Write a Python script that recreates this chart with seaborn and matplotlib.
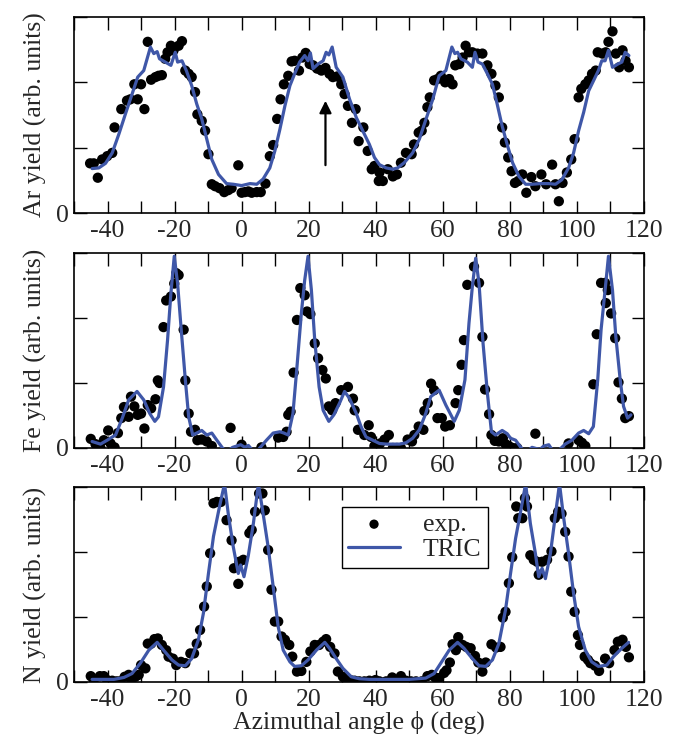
import numpy as np
import pandas as pd
import matplotlib
matplotlib.use("Agg")
import matplotlib.pyplot as plt
import seaborn as sns

# ---------------- data ----------------
ar_exp_x = [-45.2, -44.1, -42.9, -41.6, -40.1, -38.6, -37.9, -35.9, -34.2, -33.2, -32.0, -31.0, -30.0, -29.0,
            -28.0, -27.0, -25.7, -24.8, -23.8, -22.8, -22.1, -21.1, -20.3, -18.8, -17.8, -16.8, -15.8, -14.9,
            -13.9, -13.2, -11.9, -10.9, -9.9, -8.9, -7.9, -6.6, -5.2, -4.0, -3.0, -1.0, 0.0, 1.0, 2.0, 3.0,
            4.5, 5.7, 7.1, 8.4, 9.4, 10.6, 11.6, 12.6, 13.9, 14.9, 15.8, 17.1, 18.1, 19.1, 20.3, 21.3, 22.5,
            23.8, 25.0, 26.2, 27.2, 28.5, 29.7, 30.7, 31.7, 32.9, 34.0, 34.9, 36.3, 37.6, 38.8, 39.6, 40.9,
            41.1, 42.1, 43.6, 45.1, 46.3, 47.5, 49.0, 50.7, 51.4, 52.8, 53.7, 54.5, 55.4, 56.1, 57.4, 58.4,
            59.4, 60.7, 61.9, 62.9, 63.7, 64.9, 65.9, 66.8, 67.8, 68.8, 70.3, 71.8, 73.3, 74.5, 75.7, 76.7,
            77.7, 78.5, 79.5, 80.5, 81.5, 82.5, 83.7, 84.9, 86.4, 87.6, 89.4, 90.8, 92.6, 93.6, 94.6, 95.7,
            97.0, 98.3, 99.3, 100.5, 101.3, 102.5, 103.5, 104.5, 105.6, 106.2, 107.6, 108.6, 109.4, 110.6,
            111.6, 112.6, 113.6, 114.5, 115.5]
ar_exp_y = [0.76, 0.76, 0.54, 0.82, 0.87, 0.92, 1.31, 1.59, 1.72, 1.74, 1.97, 1.74, 1.97, 1.59,
            2.62, 2.04, 2.08, 2.10, 2.11, 2.36, 2.46, 2.56, 2.49, 2.56, 2.63, 2.18, 2.13, 2.08,
            1.85, 1.51, 1.41, 1.26, 0.90, 0.44, 0.41, 0.38, 0.32, 0.35, 0.38, 0.73, 0.31, 0.32, 0.33, 0.31,
            0.32, 0.32, 0.45, 0.87, 1.04, 1.44, 1.74, 1.97, 2.10, 2.32, 2.33, 2.18, 2.38, 2.45, 2.28, 2.26, 2.21,
            2.18, 2.22, 2.13, 2.08, 2.09, 1.97, 1.82, 1.64, 1.38, 1.59, 1.10, 1.31, 0.95, 0.67, 0.72, 0.49,
            0.62, 0.49, 0.67, 0.56, 0.59, 0.77, 0.92, 0.90, 1.05, 1.23, 1.26, 1.38, 1.62, 1.77, 2.03, 2.05,
            2.10, 2.00, 2.05, 1.97, 2.26, 2.28, 2.38, 2.56, 2.46, 2.46, 2.44, 2.44, 2.26, 2.13, 1.95, 1.77,
            1.31, 1.08, 0.85, 0.64, 0.46, 0.49, 0.59, 0.31, 0.55, 0.41, 0.59, 0.44, 0.74, 0.44, 0.18, 0.46,
            0.62, 0.82, 1.13, 1.77, 1.90, 1.97, 2.03, 2.13, 2.18, 2.46, 2.44, 2.46, 2.62, 2.78,
            2.44, 2.23, 2.49, 2.33, 2.23]

ar_tric_x = [-44.6, -42.6, -40.6, -38.6, -36.6, -34.7, -33.2, -31.0, -29.2, -27.2, -26.2, -25.2, -24.5, -22.8,
             -21.1, -19.8, -19.1, -17.8, -16.5, -14.9, -13.4, -11.9, -10.4, -8.9, -6.9, -4.5, -2.5, 0.0, 2.5,
             4.5, 6.4, 8.4, 9.9, 11.4, 12.9, 14.4, 15.8, 17.3, 18.8, 19.8, 20.5, 21.3, 22.8, 24.3, 25.2, 26.0,
             27.0, 28.2, 30.2, 32.2, 34.2, 36.1, 38.1, 39.6, 41.1, 43.1, 45.1, 46.5, 48.5, 51.0, 53.0, 55.0,
             57.0, 58.9, 60.9, 62.7, 63.6, 64.4, 65.4, 67.3, 68.8, 69.6, 70.5, 71.8, 73.3, 74.8, 76.2, 77.7,
             79.3, 80.8, 82.7, 84.7, 86.6, 89.1, 91.6, 93.6, 95.5, 97.5, 99.0, 100.5, 102.0, 103.5, 105.0,
             106.4, 107.4, 108.4, 109.4, 110.6, 112.2, 113.4, 114.4, 115.5]
ar_tric_y = [0.68, 0.69, 0.76, 0.92, 1.21, 1.51, 1.74, 2.08, 2.18, 2.54, 2.44, 2.47, 2.36, 2.31,
             2.26, 2.46, 2.31, 2.33, 2.18, 1.95, 1.67, 1.44, 1.13, 0.82, 0.59, 0.45, 0.44, 0.42, 0.45,
             0.44, 0.52, 0.69, 0.95, 1.28, 1.64, 1.95, 2.13, 2.31, 2.41, 2.33, 2.45, 2.21, 2.28, 2.33, 2.46, 2.42,
             2.54, 2.23, 2.08, 1.74, 1.46, 1.26, 1.05, 0.85, 0.74, 0.69, 0.67, 0.69, 0.77, 0.92, 1.13, 1.44,
             1.74, 2.10, 2.18, 2.54, 2.44, 2.46, 2.36, 2.31, 2.23, 2.46, 2.31, 2.28, 2.13, 1.97, 1.67, 1.33,
             1.03, 0.77, 0.56, 0.44, 0.44, 0.45, 0.45, 0.44, 0.51, 0.69, 0.92, 1.26, 1.54, 1.87, 2.03,
             2.18, 2.33, 2.33, 2.49, 2.23, 2.28, 2.31, 2.46, 2.41]

fe_exp_x = [-45.0, -43.6, -42.1, -41.1, -39.8, -39.1, -37.9, -36.9, -35.9, -35.1, -33.7, -33.0, -32.0, -31.0,
            -30.0, -29.0, -28.0, -27.0, -25.7, -25.0, -24.5, -23.3, -22.5, -21.1, -20.1, -19.5, -18.8, -17.3,
            -16.8, -15.8, -15.1, -13.9, -13.2, -11.9, -10.4, -8.9, -3.3, 0.0, 5.9, 10.9, 12.4, 13.4, 13.9,
            14.6, 15.5, 16.5, 17.5, 18.8, 19.5, 20.5, 21.8, 22.8, 24.1, 25.1, 26.0, 27.0, 28.0, 29.7, 31.7,
            33.2, 33.7, 34.7, 36.6, 37.9, 38.6, 39.6, 41.3, 42.6, 43.9, 45.1, 46.3, 47.5, 49.5, 50.8, 51.5,
            52.8, 54.2, 54.5, 55.5, 56.5, 57.4, 58.4, 59.7, 60.7, 62.1, 63.8, 64.6, 65.6, 66.3, 67.3, 69.3,
            70.8, 71.8, 72.6, 73.8, 74.5, 75.5, 76.7, 77.9, 78.7, 79.7, 80.9, 82.2, 87.6, 97.5, 100.5, 101.5,
            102.5, 104.9, 105.9, 107.2, 108.4, 108.6, 109.2, 110.2, 111.4, 112.4, 113.4, 114.4, 115.5]
fe_exp_y = [0.14, 0.06, 0.00, 0.12, 0.27, 0.07, 0.01, 0.23, 0.46, 0.63, 0.48, 0.79, 0.64, 0.51,
            0.53, 0.30, 0.66, 0.61, 0.75, 1.04, 1.00, 1.86, 2.27, 2.33, 2.53, 2.69, 2.66, 1.82,
            1.04, 0.53, 0.25, 0.28, 0.12, 0.13, 0.10, 0.03, 0.31, 0.05, 0.01, 0.16, 0.17, 0.25, 0.51,
            0.56, 1.16, 1.97, 2.46, 2.35, 2.10, 2.06, 1.61, 1.38, 1.20, 1.07, 0.64, 0.58, 0.69, 0.89, 0.94,
            0.76, 0.58, 0.28, 0.20, 0.35, 0.17, 0.03, 0.07, 0.13, 0.20, 0.00, 0.00, 0.00, 0.13, 0.10, 0.20,
            0.33, 0.28, 0.57, 0.69, 0.99, 0.89, 0.46, 0.46, 0.33, 0.35, 0.69, 0.89, 1.28, 1.66, 2.51, 2.79,
            2.54, 1.71, 0.90, 0.52, 0.20, 0.11, 0.10, 0.15, 0.06, 0.03, 0.00, 0.00, 0.22, 0.07, 0.12, 0.08,
            0.03, 0.98, 1.75, 2.54, 2.54, 2.23, 2.43, 2.07, 1.69, 1.01, 0.76, 0.46, 0.49]

fe_tric_x = [-44.6, -42.1, -40.1, -37.6, -35.6, -33.7, -31.2, -29.2, -27.4, -25.9, -24.8, -23.3, -22.1, -21.1,
             -20.1, -19.1, -18.1, -16.8, -15.8, -14.6, -13.4, -11.9, -10.4, -8.9, -7.4, -5.7, -4.5, -2.7, -1.5,
             -0.3, 1.0, 2.0, 3.0, 4.3, 5.4, 7.4, 9.4, 11.4, 12.6, 13.9, 15.3, 16.5, 17.8, 18.8, 19.8, 20.8,
             21.8, 23.1, 24.3, 26.0, 27.5, 29.2, 30.7, 32.2, 34.2, 35.6, 37.1, 39.1, 41.1, 43.1, 45.1, 47.1,
             49.0, 51.0, 53.0, 54.9, 56.4, 58.9, 60.9, 63.4, 64.9, 66.6, 67.8, 68.8, 69.8, 70.8, 72.0, 73.3,
             74.5, 75.7, 77.7, 79.2, 80.2, 81.7, 83.7, 85.0, 86.6, 88.0, 89.0, 90.1, 91.6, 92.5, 94.0, 95.1,
             96.5, 98.5, 100.5, 102.0, 103.5, 104.9, 106.2, 107.2, 108.4, 109.4, 110.6, 111.6, 112.9, 113.9,
             115.1, 116.1]
fe_tric_y = [0.10, 0.06, 0.12, 0.20, 0.46, 0.74, 0.87, 0.74, 0.53, 0.41, 0.48, 0.94, 1.66, 2.38,
             2.95, 2.53, 1.87, 1.05, 0.48, 0.20, 0.23, 0.27, 0.20, 0.23, 0.12, 0.00, -0.06, 0.01, 0.03,
             0.05, 0.01, 0.04, -0.02, -0.06, 0.00, 0.12, 0.23, 0.25, 0.23, 0.20, 0.53, 1.25, 2.07, 2.58, 2.95, 2.43,
             1.66, 0.94, 0.58, 0.41, 0.51, 0.69, 0.87, 0.76, 0.53, 0.33, 0.17, 0.12, 0.07, 0.06, 0.06, 0.06,
             0.08, 0.15, 0.28, 0.53, 0.79, 0.89, 0.66, 0.41, 0.58, 1.05, 1.92, 2.48, 2.92, 2.53, 1.61, 0.84,
             0.25, 0.20, 0.27, 0.22, 0.15, 0.12, -0.02, -0.06, 0.01, -0.01, -0.02, 0.03, 0.05, -0.02, -0.06, -0.01,
             0.06, 0.12, 0.23, 0.27, 0.22, 0.33, 1.05, 1.82, 2.43, 2.95, 2.43, 1.71, 1.05, 0.64,
             0.46, 0.51]

n_exp_x = [-45.0, -44.1, -42.3, -41.1, -40.1, -38.6, -37.3, -36.3, -34.9, -33.7, -33.0, -31.7, -30.7, -30.0,
           -28.7, -28.0, -27.0, -26.0, -25.0, -23.8, -22.5, -21.8, -20.5, -19.5, -18.1, -16.8, -15.3, -14.2,
           -13.4, -12.4, -11.2, -10.4, -9.4, -8.4, -7.4, -6.2, -4.5, -3.0, -2.3, -1.0, -0.7, 0.5, 2.3, 3.0,
           4.0, 5.2, 6.2, 6.9, 7.9, 8.9, 9.9, 10.9, 11.9, 12.9, 14.2, 15.1, 16.5, 17.8, 19.3, 20.5, 21.8,
           23.1, 24.3, 25.2, 26.4, 27.7, 28.7, 30.2, 31.0, 32.4, 33.7, 35.1, 36.6, 38.1, 39.9, 41.1, 43.1,
           44.9, 46.1, 47.5, 49.0, 50.5, 52.0, 53.7, 55.4, 56.7, 57.7, 58.9, 60.4, 61.1, 62.1, 62.9, 63.9,
           64.6, 65.9, 67.0, 68.3, 69.6, 70.6, 71.8, 72.8, 74.5, 75.9, 77.2, 77.9, 78.7, 79.7, 80.7, 81.9,
           82.5, 83.7, 84.5, 85.1, 86.1, 87.1, 88.1, 88.6, 89.6, 91.1, 92.4, 93.4, 94.4, 95.4, 96.5, 97.5,
           98.3, 99.3, 100.3, 100.9, 102.3, 103.3, 104.0, 105.4, 106.6, 108.4, 109.6, 111.2, 112.2, 113.6,
           114.6, 115.5]
n_exp_y = [0.09, 0.03, 0.09, 0.09, 0.03, 0.02, 0.01, 0.01, 0.08, 0.11, 0.04, 0.08, 0.11, 0.26,
           0.21, 0.59, 0.59, 0.66, 0.67, 0.57, 0.49, 0.39, 0.36, 0.26, 0.31, 0.29, 0.44, 0.44,
           0.59, 0.80, 1.16, 1.47, 1.98, 2.75, 2.77, 2.77, 2.49, 2.18, 1.75, 1.51, 1.85, 1.88, 2.29, 2.34,
           2.62, 2.90, 2.90, 2.64, 2.03, 1.42, 0.93, 0.93, 0.70, 0.65, 0.57, 0.39, 0.16, 0.17, 0.31, 0.47, 0.57,
           0.57, 0.62, 0.66, 0.54, 0.44, 0.16, 0.08, 0.03, 0.03, 0.02, 0.01, 0.01, 0.02, 0.03, 0.01, 0.01,
           0.07, 0.03, 0.09, 0.02, 0.01, 0.01, 0.01, 0.09, 0.11, 0.07, 0.06, 0.14, 0.18, 0.30, 0.58, 0.49,
           0.69, 0.57, 0.54, 0.52, 0.40, 0.30, 0.16, 0.30, 0.58, 0.53, 0.54, 0.99, 1.08, 1.52, 1.92, 2.70,
           2.52, 2.52, 2.83, 2.70, 1.95, 1.88, 1.85, 1.65, 1.85, 1.88, 2.01, 2.52, 2.62, 2.59, 2.31, 1.93,
           1.39, 1.08, 0.72, 0.57, 0.39, 0.34, 0.29, 0.25, 0.17, 0.36, 0.29, 0.49, 0.62, 0.65,
           0.54, 0.38]

n_tric_x = [-44.6, -41.1, -38.1, -35.1, -32.7, -30.2, -27.7, -25.2, -23.3, -20.8, -18.8, -16.8, -14.9, -12.9,
            -11.4, -9.9, -8.4, -6.6, -5.1, -4.0, -2.5, -1.0, -0.3, 0.7, 2.0, 3.5, 5.0, 6.4, 7.9, 9.4, 10.9,
            12.4, 14.4, 15.8, 17.8, 19.8, 22.3, 24.8, 26.2, 28.2, 30.2, 32.7, 35.1, 38.1, 41.1, 45.0, 50.0,
            54.9, 57.4, 59.4, 61.9, 64.4, 66.3, 68.8, 70.8, 72.8, 74.8, 76.7, 78.7, 80.2, 81.7, 83.2, 84.7,
            86.1, 87.6, 88.6, 89.6, 90.6, 92.1, 93.5, 94.8, 96.0, 97.5, 99.0, 100.5, 102.5, 104.4, 106.4,
            108.9, 110.9, 113.4, 115.4]
n_tric_y = [0.04, 0.04, 0.04, 0.07, 0.13, 0.29, 0.49, 0.61, 0.49, 0.34, 0.26, 0.25, 0.36, 0.65,
            1.06, 1.67, 2.24, 2.70, 3.05, 2.59, 2.08, 1.67, 1.80, 1.62, 1.95, 2.44, 3.05, 2.59, 2.08, 1.47, 0.85,
            0.49, 0.31, 0.24, 0.25, 0.34, 0.49, 0.61, 0.52, 0.36, 0.21, 0.08, 0.05, 0.04, 0.04, 0.04, 0.04,
            0.06, 0.13, 0.29, 0.49, 0.61, 0.52, 0.36, 0.25, 0.24, 0.34, 0.59, 1.11, 1.67, 2.21, 2.62, 3.05,
            2.44, 1.98, 1.62, 1.75, 1.59, 1.98, 2.54, 3.05, 2.54, 1.98, 1.36, 0.85, 0.49, 0.31, 0.24,
            0.26, 0.39, 0.52, 0.61]

panel_labels = ["Ar yield (arb. units)", "Fe yield (arb. units)", "N yield (arb. units)"]
x_ticks = [-40, -20, 0, 20, 40, 60, 80, 100, 120]
legend_labels = ["exp.", "TRIC"]
x_label = "Azimuthal angle \u03d5 (deg)"

# ---------------- style ----------------
sns.set_theme(style="ticks")
plt.rcParams["font.family"] = ["Liberation Serif", "DejaVu Serif"]
plt.rcParams["axes.unicode_minus"] = False

line_color = "#3f57a8"
FS = 18.5

fig = plt.figure(figsize=(6.8, 7.44), dpi=100)
L, R = 74 / 680, 644 / 680
tops = [17, 253, 487]
bots = [213, 448, 682]
axes = []
for t, b in zip(tops, bots):
    axes.append(fig.add_axes([L, 1 - b / 744, R - L, (b - t) / 744]))

datasets = [
    (ar_exp_x, ar_exp_y, ar_tric_x, ar_tric_y),
    (fe_exp_x, fe_exp_y, fe_tric_x, fe_tric_y),
    (n_exp_x, n_exp_y, n_tric_x, n_tric_y),
]

for i, (ax, (ex, ey, tx, ty)) in enumerate(zip(axes, datasets)):
    dexp = pd.DataFrame({"x": ex, "y": ey})
    dtr = pd.DataFrame({"x": tx, "y": ty})
    sns.lineplot(data=dtr, x="x", y="y", ax=ax, color=line_color, lw=2.3,
                 sort=False, estimator=None, label=legend_labels[1], zorder=3)
    sns.scatterplot(data=dexp, x="x", y="y", ax=ax, color="black", s=55,
                    edgecolor="none", label=legend_labels[0], zorder=2)
    ax.set_xlim(-50, 120)
    ax.set_ylim(0, 3)
    ax.set_xticks(x_ticks)
    ax.set_xticks(np.arange(-50, 121, 10), minor=True)
    ax.set_yticks([0, 1, 2, 3])
    ax.set_yticklabels(["0", "", "", ""])
    ax.tick_params(axis="both", which="both", direction="in", top=True, right=True,
                   length=9, width=1.0, labelsize=FS, pad=5, color="black")
    ax.tick_params(axis="y", which="major", pad=4)
    for sp in ax.spines.values():
        sp.set_linewidth(1.2)
        sp.set_color("black")
    ax.set_ylabel(panel_labels[i], fontsize=FS, labelpad=6)
    ax.set_xlabel("")
    if ax.get_legend() is not None:
        ax.get_legend().remove()

axes[2].set_xlabel(x_label, fontsize=FS, labelpad=0)

# arrow in top panel
axes[0].annotate("", xy=(25, 1.76), xytext=(25, 0.69),
                 arrowprops=dict(arrowstyle="-|>", color="black", lw=1.6,
                                 mutation_scale=18))

# legend in bottom panel
h, l = axes[2].get_legend_handles_labels()
order = [l.index(legend_labels[0]), l.index(legend_labels[1])]
leg = axes[2].legend([h[k] for k in order], [l[k] for k in order],
                     loc="upper left", bbox_to_anchor=(0.47, 0.90),
                     borderaxespad=0, fontsize=FS, frameon=True, fancybox=False,
                     edgecolor="black", framealpha=1, handlelength=2.0,
                     handletextpad=0.9, borderpad=0.25, labelspacing=0.1,
                     markerscale=0.9)
leg.get_frame().set_linewidth(1.0)

fig.savefig("out.png", dpi=100)
